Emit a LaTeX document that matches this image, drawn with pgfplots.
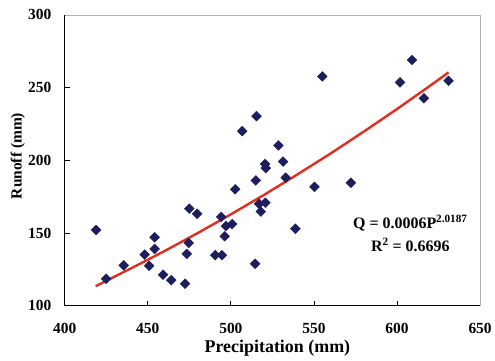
\documentclass[border=0pt]{standalone}
\usepackage{pgfplots}
\pgfplotsset{compat=1.18}
\usepackage{fontspec}
\setmainfont{Liberation Serif}
\definecolor{navy}{RGB}{30,30,95}
\definecolor{trend}{RGB}{225,45,30}
\begin{document}
\begin{tikzpicture}
\begin{axis}[
  scale only axis, width=417pt, height=292pt,
  xmin=400, xmax=650, ymin=100, ymax=300,
  xtick={400,450,...,650}, ytick={100,150,...,300},
  tick align=inside, major tick length=5pt,
  xtick pos=bottom, ytick pos=left,
  axis line style={gray!60, line width=0.8pt},
  tick style={black, line width=0.8pt},
  /pgf/number format/assume math mode=true,
  ticklabel style={font=\fontsize{15.5}{18}\selectfont\bfseries},
  xticklabel style={anchor=center, yshift=-23pt},
  yticklabel style={anchor=east, xshift=-10pt},
  xlabel={Precipitation (mm)}, ylabel={Runoff (mm)},
  xlabel style={font=\fontsize{18}{20}\selectfont\bfseries, at={(rel axis cs:0.512,-0.1473)}, anchor=center},
  ylabel style={font=\fontsize{15.5}{18}\selectfont\bfseries, at={(rel axis cs:-0.113,0.515)}, anchor=center},
  clip=false,
]
\addplot[only marks, mark=square*, mark size=3.5pt, mark options={rotate=45, fill=navy, draw=navy}] coordinates {
(418.9,152.1) (424.9,118.6) (435.5,127.8) (448.1,135.2) (454.1,147.1) (454.1,139.1)
(450.8,127.5) (459.2,121.4) (464.1,117.6) (475,166.8) (479.7,163.3) (474.6,143.2)
(473.4,135.7) (472.4,115.2) (515.4,230.4) (506.8,220.1) (528.6,210.3) (520.6,197.5)
(521,194.7) (531.4,199.2) (515,186.2) (502.6,180.1) (533,188.1) (550.3,181.8)
(517,170.2) (520.8,170.9) (518,164.8) (494.2,161.1) (500.8,156.2) (497,154.8)
(496.3,147.8) (490.6,134.8) (494.6,134.8) (514.6,128.9) (538.8,153) (609,269)
(601.8,253.6) (631,254.7) (616.2,242.7) (572.2,184.6) (555,257.7)
};
\addplot[trend, line width=2.4pt] coordinates {
(418.6,113.5) (440,125.8) (460,137.6) (480,150.0) (500,162.9) (520,176.3)
(540,190.3) (560,204.7) (580,219.8) (600,235.3) (620,251.4) (631,260.5)
};
\draw[black, line width=1pt] (rel axis cs:0,1) -- (rel axis cs:0,0) -- (rel axis cs:1,0);
\node[align=center, font=\fontsize{16}{23}\selectfont\bfseries] at (axis cs:608,150)
  {Q = 0.0006P\textsuperscript{2.0187}\\R\textsuperscript{2} = 0.6696};
\path (rel axis cs:0,0) ++(-65pt,-55pt);
\path (rel axis cs:1,1) ++(13pt,15pt);
\end{axis}
\end{tikzpicture}
\end{document}
